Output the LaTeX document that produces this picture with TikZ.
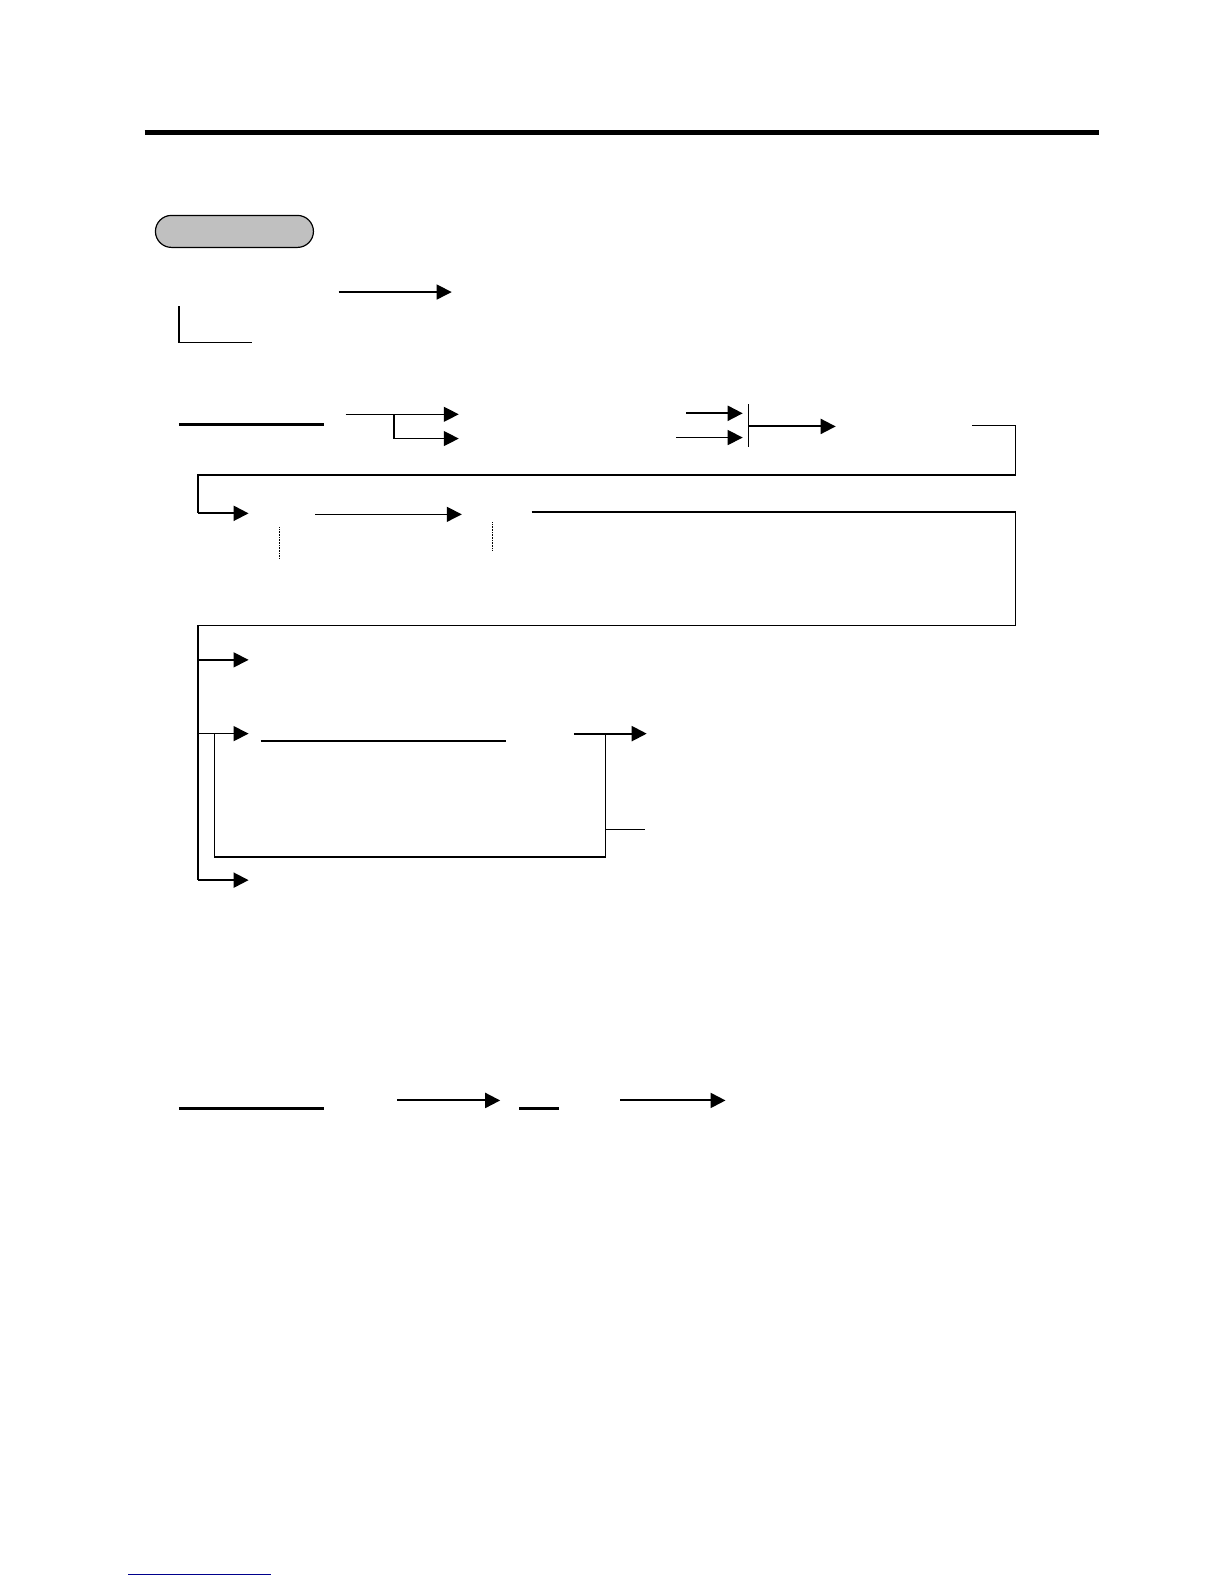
\documentclass[tikz,border=0pt]{standalone}
\usetikzlibrary{arrows.meta}
\begin{document}
\begin{tikzpicture}[x=1.0105bp,y=-1.0105bp,
  ln/.style={line width=1.3bp},
  tk/.style={line width=2.2bp},
  ar/.style={line width=1.3bp,-{Triangle[length=15bp,width=15bp]}},
  tar/.style={line width=2bp,-{Triangle[length=15bp,width=15bp]}}]
\useasboundingbox (0,0) rectangle (1211.28,1567.54);
% top rule
\draw[line width=5bp] (143,131) -- (1088,131);
% pill
\node[draw,line width=1.2bp,fill={rgb,255:red,192;green,192;blue,192},rounded corners=16bp,minimum width=158bp,minimum height=32bp,inner sep=0pt] (pill) at (232,229) {};
% first arrow
\draw[ar] (335,289) -- (447,289);
\draw[ln] (177,303) -- (177,339) -- (249,339);
% row 2
\draw[tk] (177,420) -- (321,420);
\draw[ln] (342,410) -- (390,410);
\draw[ar] (390,410) -- (454,410);
\draw[ar] (390,410) -- (390,434) -- (454,434);
\draw[tar] (679,409) -- (735,409);
\draw[ar] (669,433) -- (735,433);
\draw[ln] (741,400) -- (741,442);
\draw[tar] (741,422) -- (827,422);
\draw[ln] (962,421) -- (1005,421) -- (1005,470) -- (196,470) -- (196,508);
\draw[tar] (196,508) -- (246,508);
\draw[ar] (312,509) -- (457,509);
\draw[line width=0.6bp,densely dotted] (276,522) -- (276,553);
\draw[line width=0.6bp,densely dotted] (487,517) -- (487,545);
\draw[tk] (526,507) -- (1005,507);
\draw[ln] (1005,507) -- (1005,619) -- (196,619) -- (196,871);
\draw[ar] (196,653) -- (246,653);
\draw[ar] (196,726) -- (246,726);
\draw[tar] (196,871) -- (246,871);
\draw[tk] (258,733) -- (501,733);
\draw[ln] (212,726) -- (212,848) -- (599,848) -- (599,726);
\draw[tar] (568,726) -- (640,726);
\draw[ln] (599,821) -- (638,821);
% bottom row
\draw[tk] (177,1097) -- (321,1097);
\draw[tar] (393,1089) -- (495,1089);
\draw[tk] (514,1097) -- (553,1097);
\draw[tar] (614,1089) -- (718,1089);
% footer line
\draw[line width=1bp,color={rgb,255:red,0;green,0;blue,140}] (127,1558) -- (268,1558);
\end{tikzpicture}
\end{document}
